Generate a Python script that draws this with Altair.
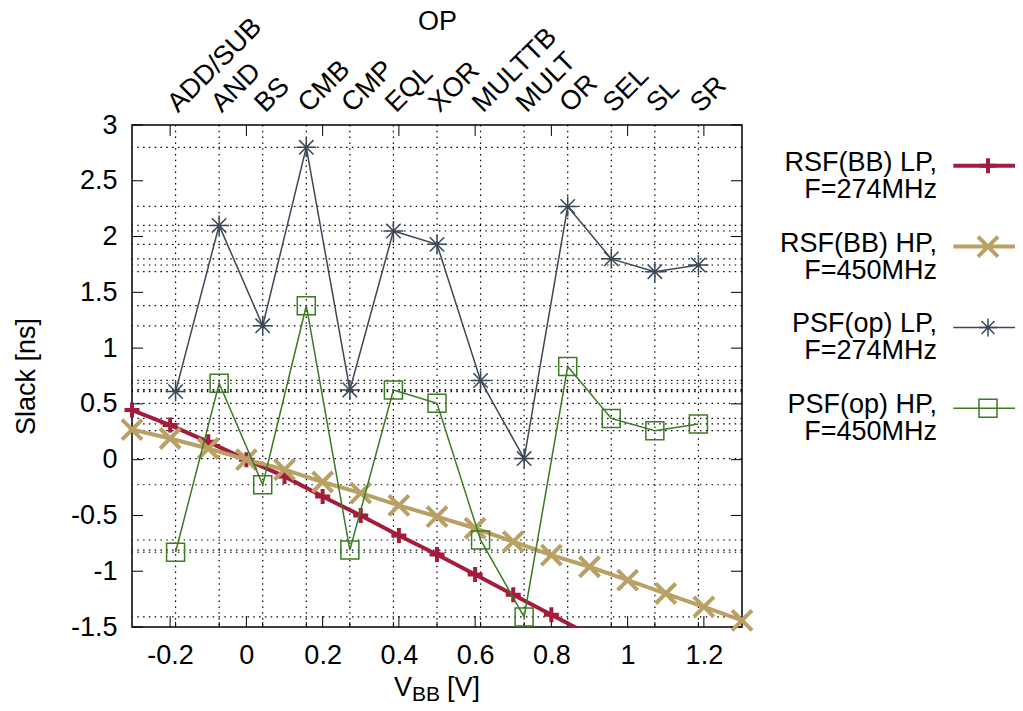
import json
import altair as alt
import pandas as pd

# ---------------- data ----------------
ops = ["ADD/SUB", "AND", "BS", "CMB", "CMP", "EQL", "XOR",
       "MULTTB", "MULT", "OR", "SEL", "SL", "SR"]
op_pos = list(range(1, 14))
psf_lp = [0.61, 2.10, 1.20, 2.80, 0.625, 2.05, 1.93, 0.71, 0.01, 2.27, 1.80, 1.685, 1.745]
psf_hp = [-0.83, 0.685, -0.225, 1.38, -0.81, 0.625, 0.505, -0.72, -1.41, 0.835, 0.37, 0.26, 0.32]

vbb_lp = [-0.3, -0.2, -0.1, 0.0, 0.1, 0.2, 0.3, 0.4, 0.5, 0.6, 0.7, 0.8, 0.9]
rsf_lp = [0.445, 0.31, 0.16, 0.0, -0.15, -0.33, -0.50, -0.68, -0.85, -1.03, -1.21, -1.39, -1.57]

vbb_hp = [-0.3, -0.2, -0.1, 0.0, 0.1, 0.2, 0.3, 0.4, 0.5, 0.6, 0.7, 0.8, 0.9, 1.0, 1.1, 1.2, 1.3]
rsf_hp = [0.27, 0.19, 0.10, 0.0, -0.09, -0.20, -0.30, -0.41, -0.51, -0.615, -0.735,
          -0.855, -0.96, -1.08, -1.20, -1.32, -1.44]

x_ticks = [-0.2, 0.0, 0.2, 0.4, 0.6, 0.8, 1.0, 1.2]
y_ticks = [-1.5, -1.0, -0.5, 0.0, 0.5, 1.0, 1.5, 2.0, 2.5, 3.0]

legend_labels = ["RSF(BB) LP,\nF=274MHz", "RSF(BB) HP,\nF=450MHz",
                 "PSF(op) LP,\nF=274MHz", "PSF(op) HP,\nF=450MHz"]
x_title_parts = ["V", "BB", "[V]"]

# ---------------- layout / style ----------------
W, H = 610, 502
XMIN, XMAX = -0.3, 1.3
YMIN, YMAX = -1.5, 3.0
X2MIN, X2MAX = 0, 14
FONT = "Liberation Sans"
FS = 27

RED = "#a51b3b"
TAN = "#b9a064"
SLATE = "#3a4857"
GREEN = "#3b7b22"
PLUS = "M-1,0L1,0M0,-1L0,1"
CROSS = "M-1,-1L1,1M-1,1L1,-1"
STAR = "M-1,0L1,0M0,-1L0,1M-0.72,-0.72L0.72,0.72M-0.72,0.72L0.72,-0.72"
DOT = [1.5, 4.3]

sx = alt.Scale(domain=[XMIN, XMAX], nice=False, zero=False)
sy = alt.Scale(domain=[YMIN, YMAX], nice=False, zero=False)
sx2 = alt.Scale(domain=[X2MIN, X2MAX], nice=False, zero=False)

ax_bottom = alt.Axis(orient="bottom", values=x_ticks, labelExpr="datum.value + ''",
                     domain=False, ticks=False, grid=False, labelFont=FONT,
                     labelFontSize=FS, labelColor="black", labelPadding=15,
                     labelBaseline="top", labelFlush=False, title=None)
ax_left = alt.Axis(orient="left", values=y_ticks, labelExpr="datum.value + ''",
                   domain=False, ticks=False, grid=False, labelFont=FONT,
                   labelFontSize=FS, labelColor="black", labelPadding=15,
                   labelFlush=False, title="Slack [ns]", titleFont=FONT,
                   titleFontSize=FS, titleFontWeight="normal", titleColor="black",
                   titleAngle=270, titleX=-106, titleY=H / 2, titleAlign="center",
                   titleBaseline="middle")
ax_top = alt.Axis(orient="top", values=op_pos,
                  labelExpr=json.dumps(ops) + "[datum.value - 1]",
                  domain=False, ticks=False, tickSize=0, grid=False, labelFont=FONT,
                  labelFontSize=FS, labelColor="black", labelAngle=315,
                  labelAlign="left", labelBaseline="alphabetic", labelPadding=12,
                  labelOffset=2, labelOverlap=False, labelBound=False, labelFlush=False,
                  title="OP", titleFont=FONT, titleFontSize=FS, titleFontWeight="normal",
                  titleColor="black", titleX=W / 2, titleY=-96, titleAlign="center",
                  titleBaseline="alphabetic")


def X(f):
    return alt.X(f"{f}:Q", scale=sx, axis=ax_bottom)


def Y(f):
    return alt.Y(f"{f}:Q", scale=sy, axis=ax_left)


def X2(f, axis=None):
    return alt.X(f"{f}:Q", scale=sx2, axis=axis)


# tick lengths converted to data units through the scales' spans
TICK = 11
dy_t = TICK * (YMAX - YMIN) / H
dx_t = TICK * (XMAX - XMIN) / W
dy_s = 5 * (YMAX - YMIN) / H

df_xt = pd.DataFrame({"x": x_ticks * 2,
                      "y": [YMIN] * len(x_ticks) + [YMAX] * len(x_ticks),
                      "y2": [YMIN + dy_t] * len(x_ticks) + [YMAX - dy_t] * len(x_ticks)})
df_yt = pd.DataFrame({"y": y_ticks * 2,
                      "x": [XMIN] * len(y_ticks) + [XMAX] * len(y_ticks),
                      "x2": [XMIN + dx_t] * len(y_ticks) + [XMAX - dx_t] * len(y_ticks)})
df_lp = pd.DataFrame({"v": vbb_lp, "s": rsf_lp})
df_hp = pd.DataFrame({"v": vbb_hp, "s": rsf_hp})
df_psf = pd.DataFrame({"op": op_pos, "name": ops, "lp": psf_lp, "hp": psf_hp})
df_hgrid = pd.DataFrame({"y": psf_lp + psf_hp})
df_vgrid = pd.DataFrame({"op": op_pos, "y": [YMIN] * 13, "y2": [YMIN + dy_s] * 13})

# ---------------- grid layer (x2 scale, top axis) ----------------
vgrid = alt.Chart(df_vgrid).mark_rule(color="black", strokeWidth=1.2, strokeDash=DOT).encode(
    x=X2("op", ax_top))
hgrid = alt.Chart(df_hgrid).mark_rule(color="black", strokeWidth=1.2, strokeDash=DOT).encode(
    y=Y("y"))
op_ticks = alt.Chart(df_vgrid).mark_rule(color="black", strokeWidth=1).encode(
    x=X2("op", ax_top), y=Y("y"), y2="y2")
grid_layer = alt.layer(vgrid, hgrid, op_ticks)

# ---------------- RSF layer (V_BB scale, bottom axis) ----------------
xt = alt.Chart(df_xt).mark_rule(color="black", strokeWidth=1).encode(x=X("x"), y=Y("y"), y2="y2")
yt = alt.Chart(df_yt).mark_rule(color="black", strokeWidth=1).encode(x=X("x"), x2="x2", y=Y("y"))
red_line = alt.Chart(df_lp).mark_line(color=RED, strokeWidth=4, clip=True).encode(x=X("v"), y=Y("s"))
red_pts = alt.Chart(df_lp).transform_filter(f"datum.s >= {YMIN}").mark_point(
    shape=PLUS, size=225, filled=False, strokeWidth=4, color=RED, opacity=1).encode(x=X("v"), y=Y("s"))
tan_line = alt.Chart(df_hp).mark_line(color=TAN, strokeWidth=4, clip=True).encode(x=X("v"), y=Y("s"))
tan_pts = alt.Chart(df_hp).transform_filter(f"datum.s >= {YMIN}").mark_point(
    shape=CROSS, size=400, filled=False, strokeWidth=4, color=TAN, opacity=1).encode(x=X("v"), y=Y("s"))
rsf_layer = alt.layer(xt, yt, red_line, red_pts, tan_line, tan_pts)

# ---------------- PSF layer (x2 scale, no axis) ----------------
lp_line = alt.Chart(df_psf).mark_line(color=SLATE, strokeWidth=1.5, clip=True).encode(x=X2("op"), y=Y("lp"))
lp_pts = alt.Chart(df_psf).mark_point(shape=STAR, size=400, filled=False, strokeWidth=1.5,
                                      color=SLATE, opacity=1).encode(x=X2("op"), y=Y("lp"))
hp_line = alt.Chart(df_psf).mark_line(color=GREEN, strokeWidth=1.5, clip=True).encode(x=X2("op"), y=Y("hp"))
hp_pts = alt.Chart(df_psf).mark_point(shape="square", size=324, filled=False, strokeWidth=1.5,
                                      color=GREEN, opacity=1).encode(x=X2("op"), y=Y("hp"))
psf_layer = alt.layer(lp_line, lp_pts, hp_line, hp_pts)

main = alt.layer(grid_layer, rsf_layer, psf_layer).resolve_scale(x="independent")

# ---------------- legend (own scales placed right of the plot) ----------------
lx = alt.Scale(domain=[0, 1], range=[805, 891])
ly = alt.Scale(domain=[0, 3], range=[40.7, 283.3])
df_leg = pd.DataFrame({"i": [0, 1, 2, 3], "label": legend_labels,
                       "xt": [0.0] * 4, "x0": [0.19] * 4, "x1": [1.0] * 4, "xm": [0.593] * 4})
LX = lambda f: alt.X(f"{f}:Q", scale=lx, axis=None)
LY = lambda f: alt.Y(f"{f}:Q", scale=ly, axis=None)

leg_layers = [alt.Chart(df_leg).mark_text(align="right", baseline="middle", font=FONT,
                                          fontSize=FS, lineBreak="\n", lineHeight=27, dy=-3,
                                          color="black").encode(x=LX("xt"), y=LY("i"), text="label:N")]
styles = [(RED, 4, PLUS, 225, 4), (TAN, 4, CROSS, 400, 4),
          (SLATE, 1.5, STAR, 324, 1.5), (GREEN, 1.5, "square", 324, 1.5)]
for k, (col, lw, shp, sz, msw) in enumerate(styles):
    sub = df_leg.iloc[[k]]
    leg_layers.append(alt.Chart(sub).mark_rule(color=col, strokeWidth=lw).encode(
        x=LX("x0"), x2="x1", y=LY("i")))
    leg_layers.append(alt.Chart(sub).mark_point(shape=shp, size=sz, filled=False, strokeWidth=msw,
                                                color=col, opacity=1).encode(x=LX("xm"), y=LY("i")))

# x-axis title "V_BB [V]" with subscript
df_t = pd.DataFrame({"t": x_title_parts})
title_specs = [("V", FS, 262, 571), ("BB", 21, 280, 576), ("[V]", FS, 315, 571)]
title_parts = [
    alt.Chart(df_t).transform_filter(f"datum.t == '{txt}'").mark_text(
        align="left", baseline="alphabetic", font=FONT, fontSize=fs, color="black").encode(
        text="t:N", x=alt.value(px), y=alt.value(py))
    for txt, fs, px, py in title_specs
]

legend = alt.layer(*leg_layers, *title_parts)

chart = alt.layer(main, legend).resolve_scale(x="independent", y="independent").properties(
    width=W, height=H,
    padding={"left": 124, "top": 117, "right": 273, "bottom": 76},
    autosize=alt.AutoSizeParams(type="none"),
    background="white",
).configure_view(stroke="black", strokeWidth=1.5)

chart.save("out.html", embed_options={"renderer": "svg", "actions": False})
